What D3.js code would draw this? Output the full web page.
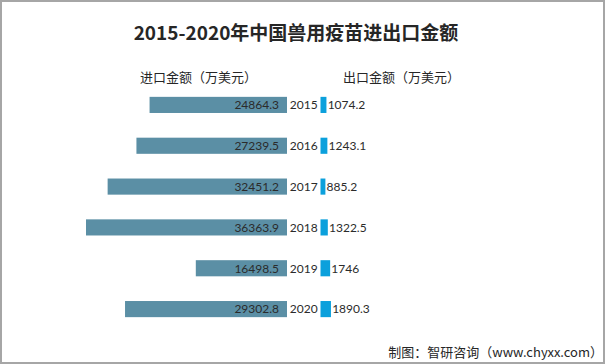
<!DOCTYPE html>
<html>
<head>
<meta charset="utf-8">
<script src="https://cdn.jsdelivr.net/npm/d3@7"></script>
<style>
  body { margin: 0; background: #fff; }
  svg { display: block; }
</style>
</head>
<body>
<div id="chart"></div>
<script>
(function () {
  const width = 605;
  const height = 364;

  // data
  const years = ["2015", "2016", "2017", "2018", "2019", "2020"];
  const imports = [24864.3, 27239.5, 32451.2, 36363.9, 16498.5, 29302.8];
  const exports = [1074.2, 1243.1, 885.2, 1322.5, 1746, 1890.3];
  const importLabels = ["24864.3", "27239.5", "32451.2", "36363.9", "16498.5", "29302.8"];
  const exportLabels = ["1074.2", "1243.1", "885.2", "1322.5", "1746", "1890.3"];

  const svg = d3.select("#chart")
    .append("svg")
    .attr("width", width)
    .attr("height", height);

  // frame
  svg.append("rect")
    .attr("x", 1).attr("y", 1)
    .attr("width", width - 2).attr("height", height - 2)
    .attr("fill", "#fff")
    .attr("stroke", "#a6a6a6")
    .attr("stroke-width", 2);

  const importRight = 287;
  const exportLeft = 320.5;

  // same scale for both sides, ~5.52 px per 1000
  const lenScale = d3.scaleLinear().domain([0, 36363.9]).range([0, 201]);

  const yPositionScale = d3.scaleBand()
    .domain(years)
    .range([84.6, 329.4])
    .paddingInner(0.605)
    .paddingOuter(0.3);

  const rows = years.map((y, i) => ({
    year: y, imp: imports[i], exp: exports[i],
    impLabel: importLabels[i], expLabel: exportLabels[i]
  }));

  const numFont = "Lato, 'Open Sans', sans-serif";
  const cjkFont = "'Noto Sans CJK SC', sans-serif";

  // title
  svg.append("text")
    .attr("x", 296)
    .attr("y", 40)
    .attr("text-anchor", "middle")
    .attr("font-family", cjkFont)
    .attr("font-weight", "bold")
    .attr("font-size", "19px")
    .attr("fill", "#262626")
    .text("2015-2020年中国兽用疫苗进出口金额");

  // side headers
  svg.append("text")
    .attr("x", 140)
    .attr("y", 82)
    .attr("font-family", cjkFont)
    .attr("font-size", "13px")
    .attr("fill", "#262626")
    .text("进口金额（万美元）");

  svg.append("text")
    .attr("x", 343)
    .attr("y", 82)
    .attr("font-family", cjkFont)
    .attr("font-size", "13px")
    .attr("fill", "#262626")
    .text("出口金额（万美元）");

  const g = svg.selectAll(".row")
    .data(rows)
    .enter().append("g")
    .attr("class", "row");

  g.append("rect")
    .attr("x", d => importRight - lenScale(d.imp))
    .attr("y", d => yPositionScale(d.year))
    .attr("width", d => lenScale(d.imp))
    .attr("height", yPositionScale.bandwidth())
    .attr("fill", "#5b8fa5");

  g.append("rect")
    .attr("x", exportLeft)
    .attr("y", d => yPositionScale(d.year))
    .attr("width", d => lenScale(d.exp))
    .attr("height", yPositionScale.bandwidth())
    .attr("fill", "#0ba0dc");

  const mid = d => yPositionScale(d.year) + yPositionScale.bandwidth() / 2;

  g.append("text")
    .attr("x", importRight - 8)
    .attr("y", mid)
    .attr("dy", "0.36em")
    .attr("text-anchor", "end")
    .attr("font-family", numFont)
    .attr("font-size", "12px")
    .attr("fill", "#2b2b2b")
    .text(d => d.impLabel);

  g.append("text")
    .attr("x", (importRight + exportLeft) / 2)
    .attr("y", mid)
    .attr("dy", "0.36em")
    .attr("text-anchor", "middle")
    .attr("font-family", numFont)
    .attr("font-size", "12px")
    .attr("fill", "#2b2b2b")
    .text(d => d.year);

  g.append("text")
    .attr("x", d => exportLeft + lenScale(d.exp) + 1.2)
    .attr("y", mid)
    .attr("dy", "0.36em")
    .attr("font-family", numFont)
    .attr("font-size", "12px")
    .attr("fill", "#2b2b2b")
    .text(d => d.expLabel);

  // source line
  svg.append("text")
    .attr("x", 603)
    .attr("y", 357)
    .attr("text-anchor", "end")
    .attr("font-family", cjkFont)
    .attr("font-size", "13px")
    .attr("fill", "#262626")
    .text("制图：智研咨询（www.chyxx.com）");
})();
</script>
</body>
</html>
